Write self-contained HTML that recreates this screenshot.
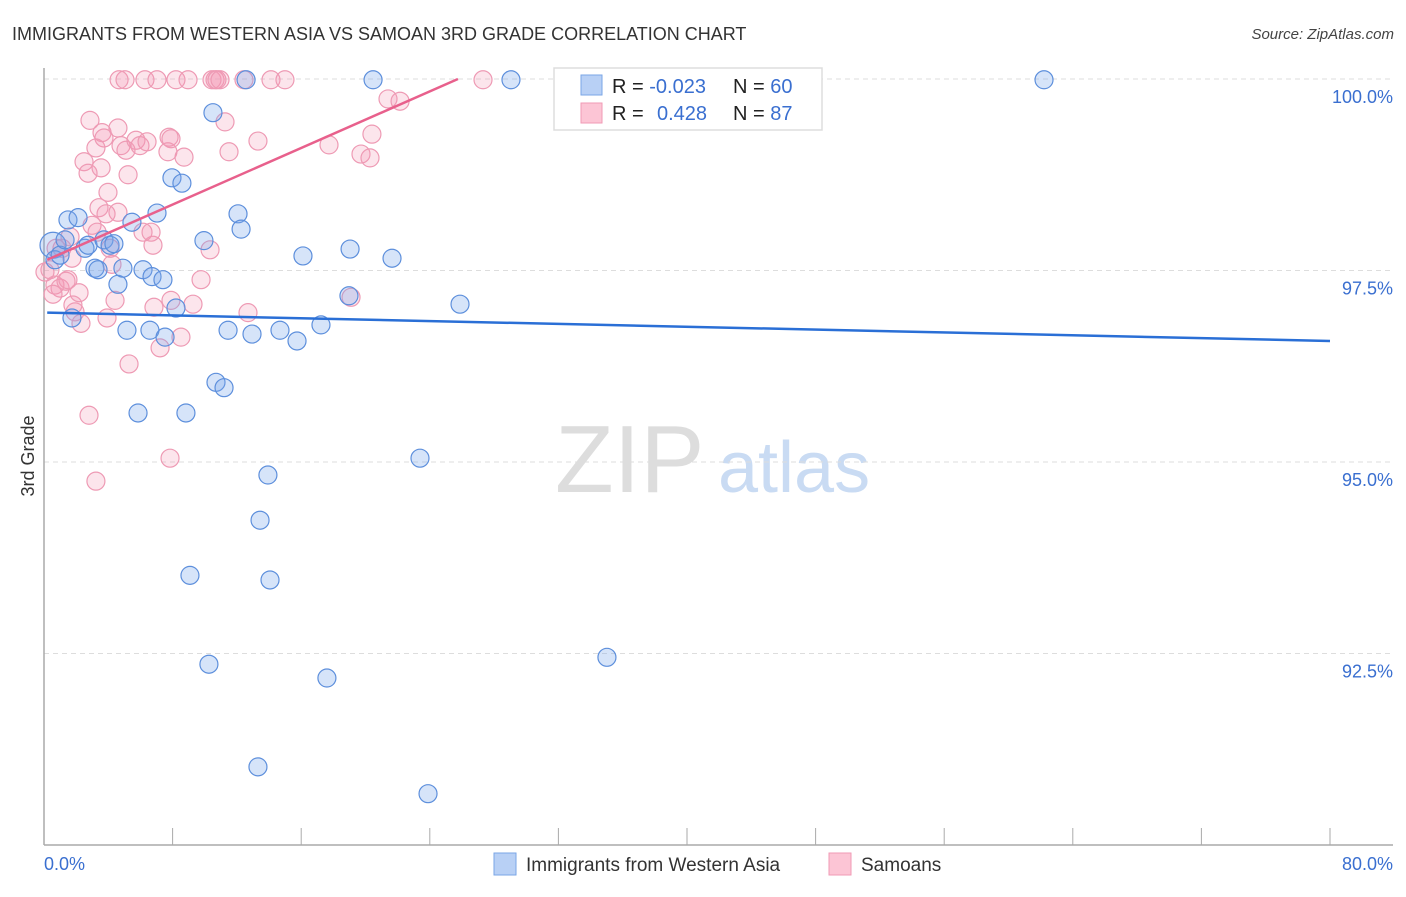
<!DOCTYPE html>
<html><head><meta charset="utf-8"><style>
body{margin:0;background:#fff;font-family:"Liberation Sans",sans-serif;}
svg text{font-family:"Liberation Sans",sans-serif;}
</style></head><body>
<svg id="c" width="1406" height="892">
<text x="12" y="40" font-size="18" fill="#333">IMMIGRANTS FROM WESTERN ASIA VS SAMOAN 3RD GRADE CORRELATION CHART</text>
<text x="1394" y="39" font-size="15" fill="#444" font-style="italic" text-anchor="end">Source: ZipAtlas.com</text>
<text x="34" y="456" font-size="18" fill="#333" transform="rotate(-90 34 456)" text-anchor="middle">3rd Grade</text>
<g>
<text x="555" y="492" font-size="96" fill="#ddd" font-family="Liberation Serif,serif">ZIP</text>
<text x="718" y="492" font-size="72" fill="#c9dbf3">atlas</text></g>
<g id="grid"></g><g id="axes"></g><g id="pts"></g><g id="trend"></g>
<g>
<rect x="554" y="68" width="268" height="62" fill="#fff" stroke="#ddd" stroke-width="1.5"/>
<rect x="581" y="75" width="21" height="20" fill="#b8d0f5" stroke="#7aa6e6"/>
<rect x="581" y="103" width="21" height="20" fill="#fcc5d5" stroke="#f09ab5"/>
<text x="612" y="93" font-size="20" fill="#222">R = <tspan fill="#3a6fd0">-0.023</tspan></text>
<text x="733" y="93" font-size="20" fill="#222">N = <tspan fill="#3a6fd0">60</tspan></text>
<text x="612" y="120" font-size="20" fill="#222">R = <tspan fill="#3a6fd0" x="657">0.428</tspan></text>
<text x="733" y="120" font-size="20" fill="#222">N = <tspan fill="#3a6fd0">87</tspan></text>
</g>
<g>
<rect x="494" y="853" width="22" height="22" fill="#b8d0f5" stroke="#7aa6e6"/>
<text x="526" y="871" font-size="19" fill="#333">Immigrants from Western Asia</text>
<rect x="829" y="853" width="22" height="22" fill="#fcc5d5" stroke="#f09ab5"/>
<text x="861" y="871" font-size="19" fill="#333">Samoans</text>
</g>
</svg>
<script>
const blueX=[0.56,0.68,1.0,1.31,1.49,2.12,1.74,2.55,2.74,3.17,3.36,3.73,4.11,4.35,4.60,4.91,5.16,5.47,5.85,6.16,6.59,6.72,7.03,7.40,7.53,7.96,8.21,8.58,8.83,9.08,9.95,10.26,10.51,10.70,11.20,11.45,12.07,12.26,12.57,12.94,13.31,13.44,13.93,14.06,14.68,15.74,16.11,17.23,17.60,18.97,19.04,20.47,21.65,23.39,23.89,25.88,29.05,35.02,42.30,62.21];
const blueY=[97.83,97.64,97.70,97.90,98.16,98.19,96.88,97.79,97.83,97.53,97.51,97.90,97.83,97.85,97.32,97.53,96.72,98.13,95.64,97.51,96.72,97.42,98.25,97.38,96.63,98.71,97.01,98.64,95.64,93.52,97.89,92.36,99.56,96.04,95.97,96.72,98.24,98.04,99.99,96.67,91.02,94.24,94.83,93.46,96.72,96.58,97.69,96.79,92.18,97.17,97.78,99.99,97.66,95.05,90.67,97.06,99.99,92.45,99.99,99.99];
const pinkX=[4.67,5.04,6.28,7.03,8.21,8.96,10.45,10.64,10.76,10.95,12.44,14.12,14.99,27.31,2.86,3.61,3.73,4.60,3.23,2.49,4.79,2.74,5.10,3.55,5.23,5.72,5.97,6.41,7.78,7.71,7.90,8.71,3.98,3.42,4.60,3.86,2.99,6.78,6.16,6.66,3.30,1.62,1.12,1.74,0.75,0.06,0.37,0.68,1.0,0.56,1.37,2.18,1.49,4.23,4.42,7.90,9.27,9.77,10.33,6.84,7.22,8.52,5.29,2.80,7.84,3.23,11.26,11.51,13.31,12.69,17.73,19.10,19.72,20.28,20.40,21.40,22.15,1.93,2.30,3.92,4.11,1.80];
const pinkY=[99.99,99.99,99.99,99.99,99.99,99.99,99.99,99.99,99.99,99.99,99.99,99.99,99.99,99.99,99.46,99.30,99.23,99.36,99.10,98.92,99.13,98.77,99.07,98.84,98.75,99.20,99.13,99.18,99.24,99.05,99.22,98.98,98.52,98.32,98.26,98.24,98.09,97.83,98.00,98.00,98.00,97.94,97.79,97.66,97.79,97.48,97.51,97.31,97.27,97.19,97.36,97.21,97.38,97.58,97.11,97.11,97.06,97.38,97.77,97.02,96.49,96.63,96.28,95.61,95.05,94.75,99.44,99.05,99.19,96.95,99.14,97.15,99.02,98.97,99.28,99.74,99.71,96.96,96.81,96.88,97.79,97.05];
const blueTrendX=[0.2,80];const blueTrendY=[96.95,96.58];
const pinkTrendX=[0.2,25.75];const pinkTrendY=[97.64,100.0];
const yTicks=[100,97.5,95,92.5];const yTickLabels=["100.0%","97.5%","95.0%","92.5%"];
const xTicks=[0,8,16,24,32,40,48,56,64,72,80];
const NS="http://www.w3.org/2000/svg";
const X=v=>44+v*16.075, Y=v=>79+(100-v)*76.6;
function mk(p,t,a){const e=document.createElementNS(NS,t);for(const k in a)e.setAttribute(k,a[k]);document.getElementById(p).appendChild(e);return e;}
yTicks.forEach((v,i)=>{
 const l=mk('grid','line',{x1:44,x2:1393,y1:Y(v),y2:Y(v),stroke:'#ddd','stroke-dasharray':'5,4'});
 
 
 const t=mk('grid','text',{x:1393,y:Y(v)+24,'font-size':18,fill:'#3a6fd0','text-anchor':'end'});t.textContent=yTickLabels[i];
 
 
});
let a=mk('axes','line',{x1:44,x2:44,y1:68,y2:845,stroke:'#aaa','stroke-width':1.5});


a=mk('axes','line',{x1:44,x2:1393,y1:845,y2:845,stroke:'#aaa','stroke-width':1.5});


xTicks.forEach(v=>{const t=mk('axes','line',{x1:X(v),x2:X(v),y1:828,y2:845,stroke:'#aaa'});
 
 });
let t=mk('axes','text',{x:44,y:870,'font-size':18,fill:'#3a6fd0'});t.textContent='0.0%';


t=mk('axes','text',{x:1393,y:870,'font-size':18,fill:'#3a6fd0','text-anchor':'end'});t.textContent='80.0%';


pinkX.forEach((v,i)=>{const c=mk('pts','circle',{cx:X(v),cy:Y(pinkY[i]),r:9,fill:'rgba(245,150,180,0.25)',stroke:'#ee9ab4','stroke-width':1.2});
 
 });
blueX.forEach((v,i)=>{const c=mk('pts','circle',{cx:X(v),cy:Y(blueY[i]),r:i==0?13:9,fill:'rgba(120,165,235,0.3)',stroke:'#5d8fdc','stroke-width':1.2});
 
 });
let l=mk('trend','line',{x1:X(blueTrendX[0]),y1:Y(blueTrendY[0]),x2:X(blueTrendX[1]),y2:Y(blueTrendY[1]),stroke:'#2a6fd6','stroke-width':2.5});


l=mk('trend','line',{x1:X(pinkTrendX[0]),y1:Y(pinkTrendY[0]),x2:X(pinkTrendX[1]),y2:Y(pinkTrendY[1]),stroke:'#e8608c','stroke-width':2.5});


</script>
</body></html>
